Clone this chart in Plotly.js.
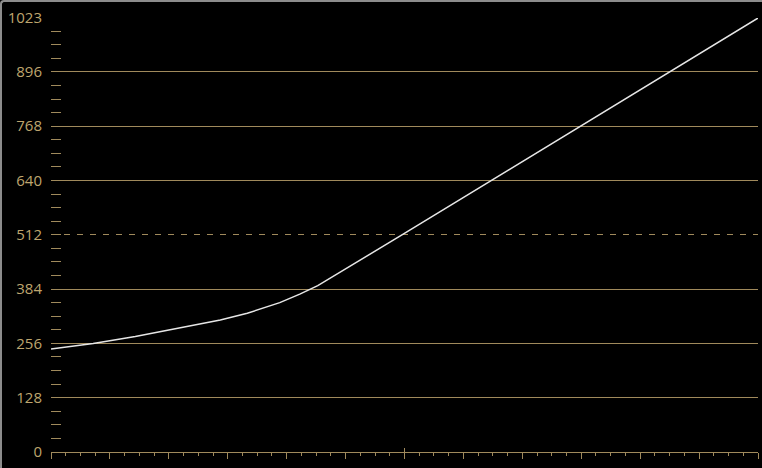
<!DOCTYPE html>
<html>
<head>
<meta charset="utf-8">
<script src="https://cdn.plot.ly/plotly-3.0.1.min.js"></script>
<style>
  html, body { margin: 0; padding: 0; background: #000; }
  #wrap { position: relative; width: 762px; height: 468px; }
  #chart { width: 762px; height: 468px; }
  #frame { position: absolute; left: 0; top: 0; width: 760px; height: 466px;
           border-top: 2px solid #8c8c8c; border-left: 2px solid #8c8c8c;
           border-top-left-radius: 4px; pointer-events: none; }
</style>
</head>
<body>
<div id="wrap"><div id="chart"></div><div id="frame"></div></div>
<script>
// Curve data (input code value -> output code value)
const inputX  = [0,   61,  122, 187, 245, 284, 331, 360, 386, 509, 637, 765, 894, 1023];
const outputY = [243, 256, 272, 292, 311, 327, 352, 372, 392, 513, 640, 768, 896, 1023];

// Axis ticks
const yTickVals = [0, 128, 256, 384, 640, 768, 896, 1023];
const yTickText = ['0', '128', '256', '384', '640', '768', '896', '1023'];
const yDashedVals = [512];
const yDashedText = ['512'];
const xMax = 1023;
const xMidTick = [511.5];

const gold = '#a08a5c';
const goldText = '#bea56e';

const traces = [
  {
    x: inputX, y: outputY, type: 'scatter', mode: 'lines',
    line: { color: '#e6e6e6', width: 1.5 },
    hoverinfo: 'skip', showlegend: false
  },
  {
    x: [0], y: [512], xaxis: 'x2', yaxis: 'y2', type: 'scatter', mode: 'none',
    hoverinfo: 'skip', showlegend: false
  }
];

const layout = {
  width: 762, height: 468,
  margin: { l: 51, r: 4, t: 18, b: 16, pad: 0 },
  paper_bgcolor: '#000', plot_bgcolor: '#000',
  font: { family: 'Open Sans, sans-serif', size: 15, color: goldText },
  showlegend: false,
  xaxis: {
    range: [0, xMax], fixedrange: true,
    showgrid: false, zeroline: false, showticklabels: false,
    showline: true, linecolor: gold, linewidth: 1,
    tickmode: 'linear', tick0: 0, dtick: xMax / 12,
    ticks: 'outside', ticklen: 6, tickwidth: 1, tickcolor: gold,
    minor: { tickmode: 'linear', tick0: 0, dtick: xMax / 48, ticks: 'outside',
             ticklen: 3, tickwidth: 1, tickcolor: gold, showgrid: false }
  },
  yaxis: {
    range: [0, 1023], fixedrange: true,
    zeroline: false, showline: false,
    tickmode: 'array', tickvals: yTickVals, ticktext: yTickText,
    ticks: '', ticklabelstandoff: 8,
    showgrid: true, gridcolor: gold, gridwidth: 1,
    tickfont: { color: goldText, size: 15 },
    minor: { tickmode: 'linear', tick0: 0, dtick: 32, ticks: 'inside',
             ticklen: 10, tickwidth: 1, tickcolor: gold, showgrid: false }
  },
  xaxis2: {
    overlaying: 'x', anchor: 'y2', side: 'bottom',
    range: [0, xMax], fixedrange: true,
    showgrid: false, zeroline: false, showline: false, showticklabels: false,
    tickmode: 'array', tickvals: xMidTick,
    ticks: 'inside', ticklen: 4, tickwidth: 1, tickcolor: gold
  },
  yaxis2: {
    overlaying: 'y', anchor: 'x2', side: 'left',
    range: [0, 1023], fixedrange: true,
    zeroline: false, showline: false,
    tickmode: 'array', tickvals: yDashedVals, ticktext: yDashedText,
    ticks: '', ticklabelstandoff: 8,
    tickfont: { color: goldText, size: 15 },
    showgrid: true, gridcolor: gold, gridwidth: 1, griddash: '6px,7px'
  }
};

Plotly.newPlot('chart', traces, layout, { displayModeBar: false, staticPlot: true });
</script>
</body>
</html>
